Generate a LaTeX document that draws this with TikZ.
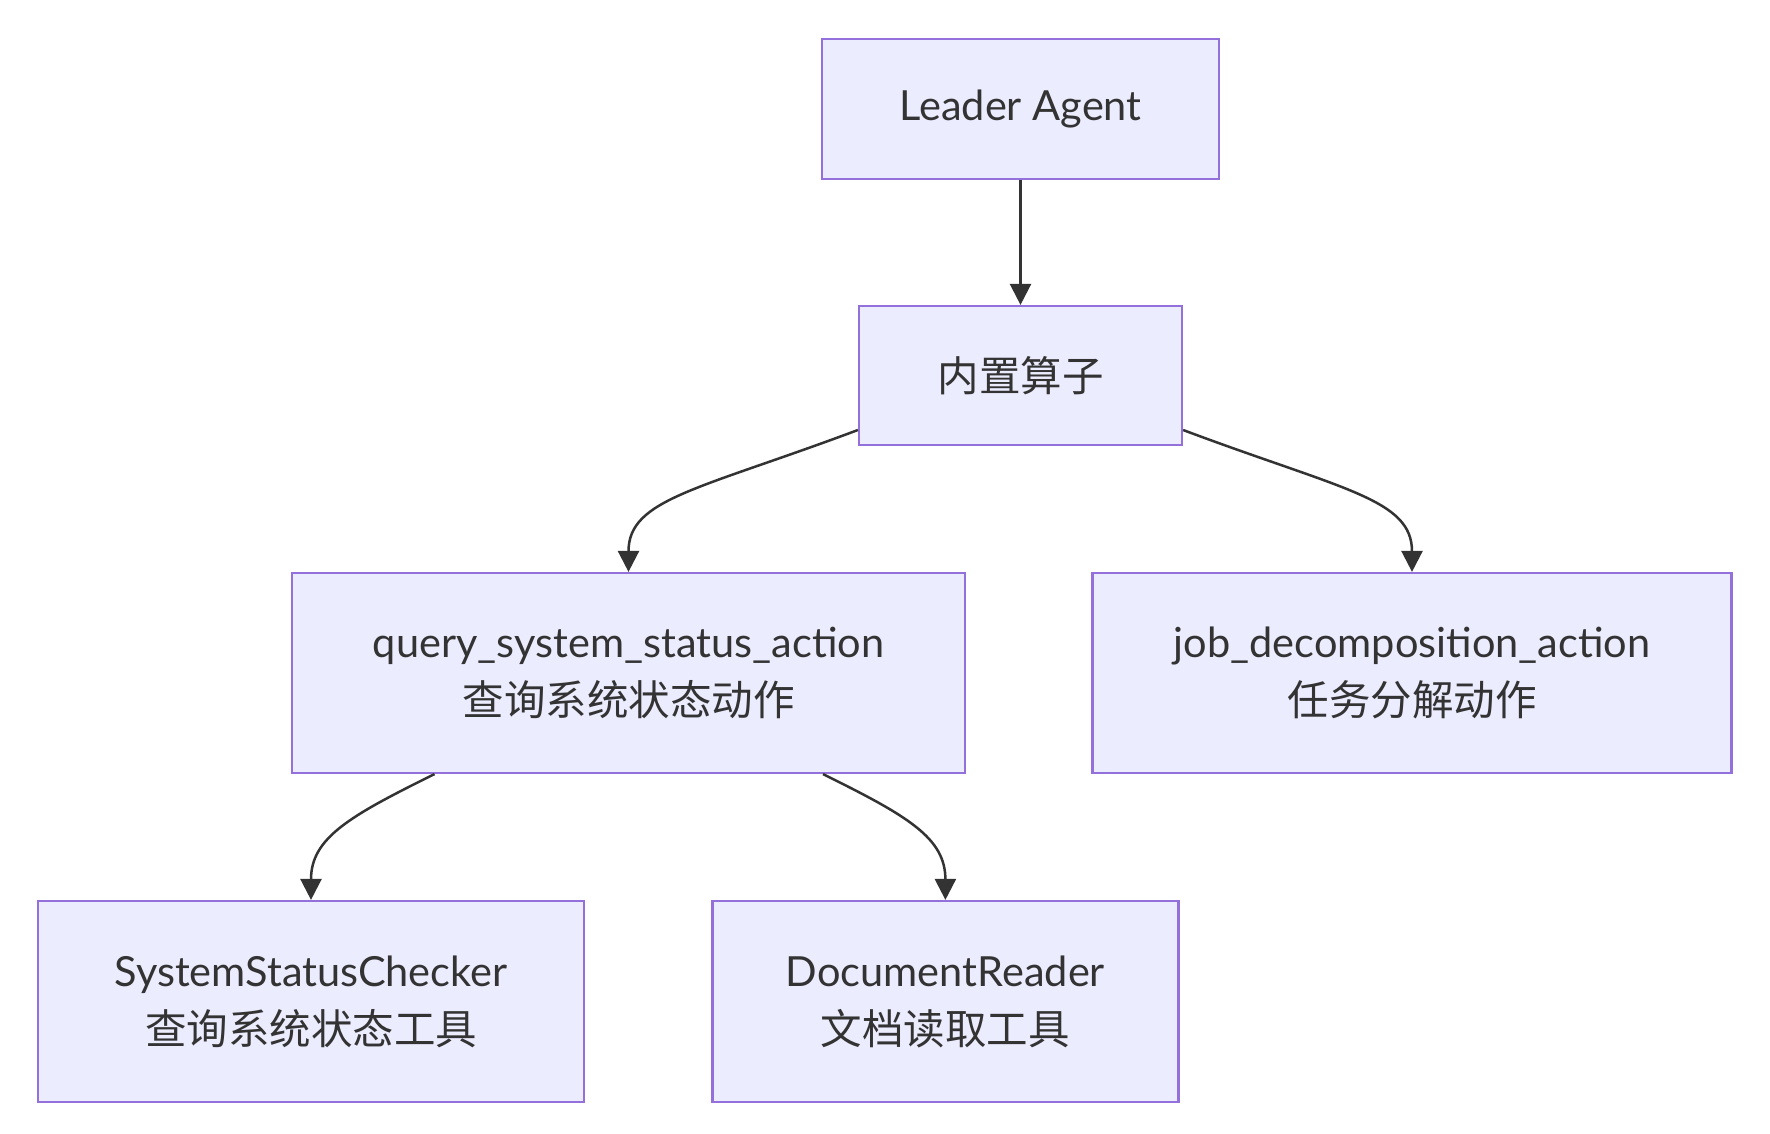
\documentclass[tikz,border=0pt]{standalone}
\usepackage{fontspec}
\setmainfont{Lato}
\newfontfamily\cjk{Noto Sans CJK SC}
\usetikzlibrary{arrows.meta,calc}
\definecolor{nodefill}{HTML}{ECECFF}
\definecolor{nodeborder}{HTML}{9370DB}
\definecolor{ink}{HTML}{333333}
\begin{document}
\begin{tikzpicture}[x=1pt,y=-1pt,
  box/.style={draw=nodeborder,fill=nodefill,line width=2.2pt,text=ink,
    font=\fontsize{41.5}{61}\selectfont,align=center,inner sep=0pt},
  edge/.style={draw=ink,line width=2.5pt,-{Triangle[length=21pt,width=21pt]}}]
\useasboundingbox (0,0) rectangle (1770,1134);
\node[box,minimum width=397pt,minimum height=140pt] (leader) at (1020.5,109) {\raisebox{-3pt}{Leader Agent}};
\node[box,minimum width=323pt,minimum height=139pt] (op) at (1020.5,375.5) {\cjk 内置算子};
\node[box,minimum width=673pt,minimum height=200pt] (query) at (628.5,673) {\raisebox{-3pt}{query\_system\_status\_action}\\{\cjk 查询系统状态动作}};
\node[box,minimum width=639pt,minimum height=200pt] (job) at (1412,673) {\raisebox{-3pt}{job\_decomposition\_action}\\{\cjk 任务分解动作}};
\node[box,minimum width=546pt,minimum height=201pt] (ssc) at (311,1001.5) {\raisebox{-3pt}{SystemStatusChecker}\\{\cjk 查询系统状态工具}};
\node[box,minimum width=466pt,minimum height=201pt] (dr) at (945.4,1001.5) {\raisebox{-3pt}{DocumentReader}\\{\cjk 文档读取工具}};
\draw[edge] (leader.south) -- (op.north);
\draw[edge] ($(op.west)+(0,54.5)$) .. controls +(-160,60) and +(0,-73) .. (query.north);
\draw[edge] ($(op.east)+(0,54.5)$) .. controls +(160,60) and +(0,-73) .. (job.north);
\draw[edge] ($(query.south)+(-194,0)$) .. controls +(-85,42) and +(0,-62) .. (ssc.north);
\draw[edge] ($(query.south)+(194.5,0)$) .. controls +(85,42) and +(0,-62) .. (dr.north);
\end{tikzpicture}
\end{document}
